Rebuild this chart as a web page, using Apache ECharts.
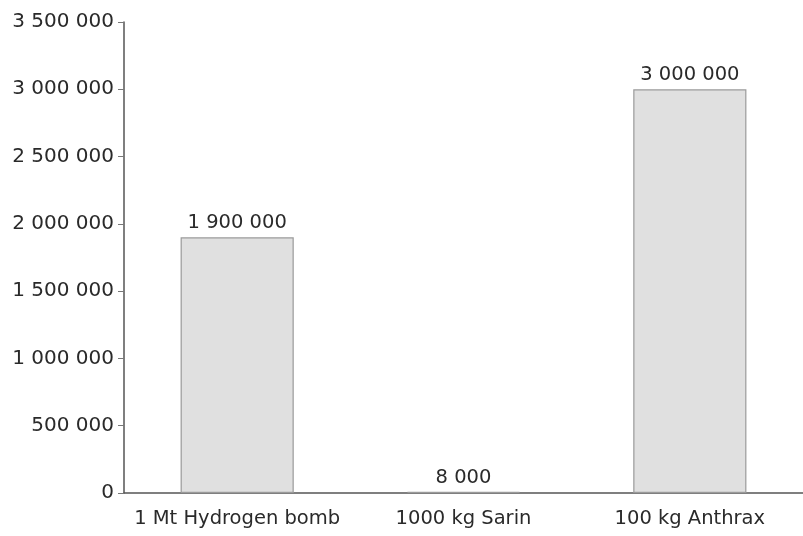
<!DOCTYPE html>
<html>
<head>
<meta charset="utf-8">
<script src="https://cdn.jsdelivr.net/npm/echarts@6/dist/echarts.min.js"></script>
<style>
html,body{margin:0;padding:0;background:#fff;}
#chart{width:803px;height:536px;}
</style>
</head>
<body>
<div id="chart"></div>
<script>
const categories = ['1 Mt Hydrogen bomb', '1000 kg Sarin', '100 kg Anthrax'];
const deaths = [1900000, 8000, 3000000];
const FONT = 'DejaVu Sans';

// Thousands separated by a space: 1 900 000
function fmt(v) {
  return String(v).replace(/\B(?=(\d{3})+(?!\d))/g, ' ');
}

const chart = echarts.init(document.getElementById('chart'));
chart.setOption({
  animation: false,
  backgroundColor: '#ffffff',
  grid: { left: 124, right: -6, top: 22, bottom: 43 },
  xAxis: {
    type: 'category',
    data: categories,
    axisLine: { lineStyle: { color: '#555', width: 1.5 } },
    axisTick: { show: false },
    axisLabel: { interval: 0, hideOverlap: false, color: '#2a2a2a', fontSize: 19.5, fontFamily: FONT, margin: 16 }
  },
  yAxis: {
    type: 'value',
    min: 0, max: 3500000, interval: 500000,
    axisLine: { show: true, lineStyle: { color: '#555', width: 1.5 } },
    axisTick: { show: true, length: 6, lineStyle: { color: '#777' } },
    splitLine: { show: false },
    axisLabel: { color: '#2a2a2a', fontSize: 20, fontFamily: FONT, margin: 10, formatter: fmt }
  },
  series: [{
    type: 'bar',
    data: deaths,
    barWidth: '50%',
    itemStyle: { color: '#e0e0e0', borderColor: '#9a9a9a', borderWidth: 1.2 },
    label: {
      show: true, position: 'top', distance: 4,
      color: '#2a2a2a', fontSize: 19.5, fontFamily: FONT,
      formatter: p => fmt(p.value)
    }
  }]
});
</script>
</body>
</html>
